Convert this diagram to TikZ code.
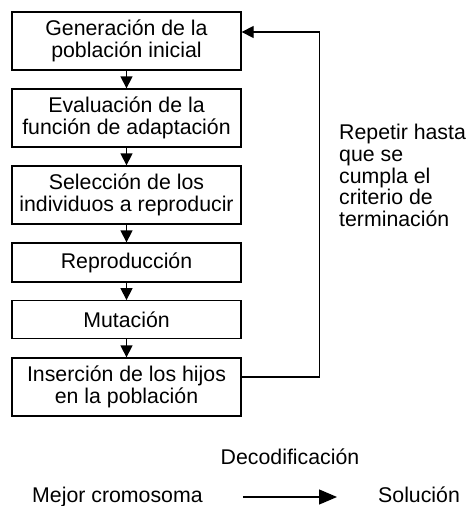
\documentclass[tikz,border=0pt]{standalone}
\usepackage{fontspec}
\setmainfont{Liberation Sans}
\usetikzlibrary{arrows.meta}
\begin{document}
\begin{tikzpicture}[x=1pt,y=-1pt,
  every node/.style={font=\fontsize{21.3}{21.8}\selectfont},
  stepbox/.style={draw,line width=1.3pt,minimum width=229pt,inner sep=0pt,align=center},
  arr/.style={line width=1.3pt,-{Triangle[length=12pt,width=12pt]}},
  arrbig/.style={line width=1.3pt,-{Triangle[length=18pt,width=15pt]}},
  plain/.style={inner sep=0pt}]
\useasboundingbox (0,0) rectangle (466,506);
\node[stepbox,minimum height=58pt] (b1) at (126.5,41) {Generación de la\\población inicial};
\node[stepbox,minimum height=58pt] (b2) at (126.5,118) {Evaluación de la\\función de adaptación};
\node[stepbox,minimum height=58pt] (b3) at (126.5,195) {Selección de los\\individuos a reproducir};
\node[stepbox,minimum height=39pt] (b4) at (126.5,262.5) {Reproducción};
\node[stepbox,minimum height=37.5pt] (b5) at (126.5,319.5) {Mutación};
\node[stepbox,minimum height=58pt] (b6) at (126.5,387) {Inserción de los hijos\\en la población};
\draw[arr] (b1) -- (b2);
\draw[arr] (b2) -- (b3);
\draw[arr] (b3) -- (b4);
\draw[arr] (b4) -- (b5);
\draw[arr] (b5) -- (b6);
\draw[arr] ([yshift=10pt]b6.east) -- ++(78,0) |- ([yshift=9pt]b1.east);
\node[plain,anchor=north west,align=left] (rep) at (339,123.8) {Repetir hasta\\que se\\cumpla el\\criterio de\\terminación};
\node[plain,anchor=base] (dec) at (290,464.5) {Decodificación};
\node[plain,anchor=base west] (mc) at (32,502.5) {Mejor cromosoma};
\node[plain,anchor=base west] (sol) at (378,502.5) {Solución};
\draw[arrbig] ([xshift=40pt]mc.east) -- ([xshift=-41pt]sol.west |- mc.east);
\end{tikzpicture}
\end{document}
